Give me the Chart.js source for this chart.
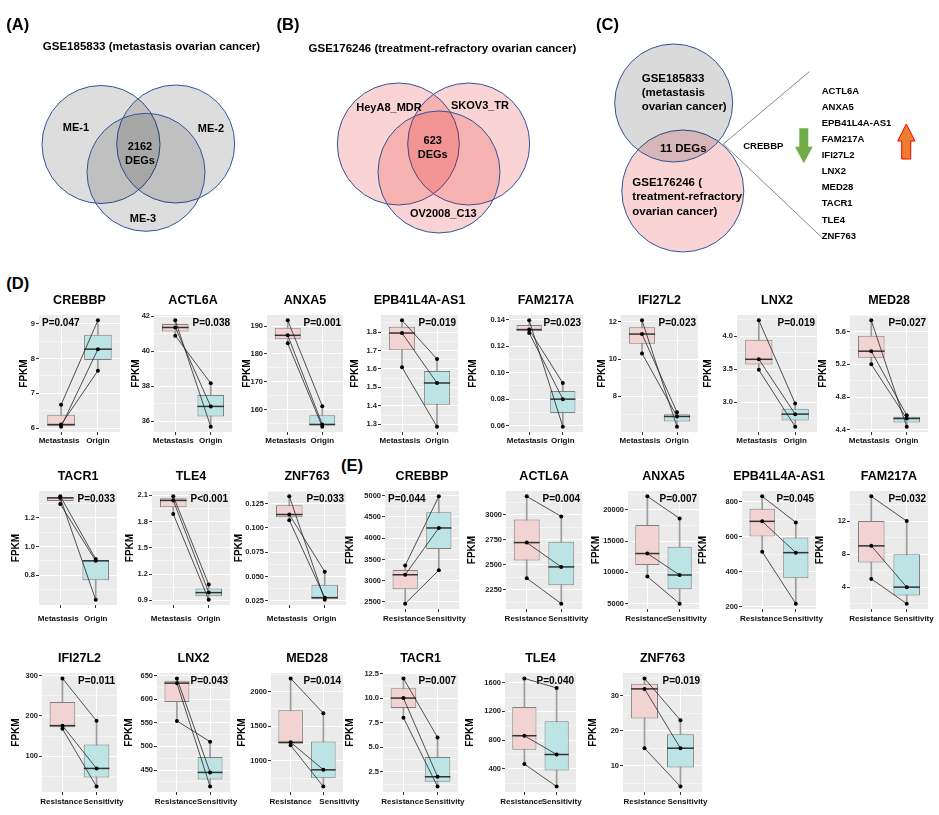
<!DOCTYPE html>
<html>
<head>
<meta charset="utf-8">
<title>CREBBP and related DEGs in ovarian cancer</title>
<script src="https://cdn.jsdelivr.net/npm/chart.js@4.4.1/dist/chart.umd.min.js"></script>
<style>
  html, body { margin: 0; padding: 0; background: #fff; overflow: hidden; }
  #fig { position: relative; width: 939px; height: 815px; }
  #fig canvas, #fig svg { position: absolute; }
  .lbl { position: absolute; font-family: "Liberation Sans", Arial, sans-serif; font-weight: bold;
         color: #000; white-space: nowrap; line-height: 1; }
</style>
</head>
<body>
<div id="fig"></div>
<script>
// ---------- data ----------
// (A)-(C) overlap of DEGs
var vennATitle = "GSE185833 (metastasis ovarian cancer)";
var vennASets = ["ME-1", "ME-2", "ME-3"];
var vennACommon = 2162;
var vennBTitle = "GSE176246 (treatment-refractory ovarian cancer)";
var vennBSets = ["HeyA8_MDR", "SKOV3_TR", "OV2008_C13"];
var vennBCommon = 623;
var vennCCommon = 11;
var downGenes = ["CREBBP"];
var upGenes = ["ACTL6A", "ANXA5", "EPB41L4A-AS1", "FAM217A", "IFI27L2", "LNX2", "MED28", "TACR1", "TLE4", "ZNF763"];

// (D) GSE185833, FPKM of 3 paired samples
var dGroups = ["Metastasis", "Origin"];
var dGenes = ["CREBBP", "ACTL6A", "ANXA5", "EPB41L4A-AS1", "FAM217A", "IFI27L2", "LNX2", "MED28", "TACR1", "TLE4", "ZNF763"];
var dMetastasis = [
  [6.67, 6.04, 6.10],
  [40.89, 41.77, 41.36],
  [192.1, 186.7, 183.8],
  [1.864, 1.795, 1.609],
  [0.1325, 0.1395, 0.1300],
  [12.09, 11.35, 10.31],
  [4.24, 3.65, 3.49],
  [5.736, 5.36, 5.20],
  [1.349, 1.337, 1.295],
  [2.088, 2.04, 1.886],
  [0.1325, 0.1137, 0.1079]
];
var dOrigin = [
  [9.10, 8.27, 7.65],
  [38.16, 35.68, 36.84],
  [161.2, 154.6, 153.8],
  [1.654, 1.524, 1.287],
  [0.0921, 0.0592, 0.0800],
  [6.37, 7.15, 6.92],
  [2.98, 2.82, 2.63],
  [4.44, 4.58, 4.54],
  [0.913, 0.631, 0.901],
  [1.082, 0.989, 0.907],
  [0.0262, 0.0551, 0.0284]
];
var dP = ["P=0.047", "P=0.038", "P=0.001", "P=0.019", "P=0.023", "P=0.023", "P=0.019", "P=0.027", "P=0.033", "P<0.001", "P=0.033"];
var dTicks = [
  ["6", "7", "8", "9"],
  ["36", "38", "40", "42"],
  ["160", "170", "180", "190"],
  ["1.3", "1.4", "1.5", "1.6", "1.7", "1.8"],
  ["0.06", "0.08", "0.10", "0.12", "0.14"],
  ["8", "10", "12"],
  ["3.0", "3.5", "4.0"],
  ["4.4", "4.8", "5.2", "5.6"],
  ["0.8", "1.0", "1.2"],
  ["0.9", "1.2", "1.5", "1.8", "2.1"],
  ["0.025", "0.050", "0.075", "0.100", "0.125"]
];

// (E) GSE176246, FPKM of 3 paired cell lines
var eGroups = ["Resistance", "Sensitivity"];
var eGenes = ["CREBBP", "ACTL6A", "ANXA5", "EPB41L4A-AS1", "FAM217A", "IFI27L2", "LNX2", "MED28", "TACR1", "TLE4", "ZNF763"];
var eResistance = [
  [3358, 3140, 2460],
  [3185, 2723, 2367],
  [22150, 13010, 9330],
  [829, 687, 514],
  [15, 9, 5],
  [293, 176, 168],
  [644, 634, 554],
  [2190, 1267, 1223],
  [12, 10, 8],
  [1660, 860, 465],
  [35, 32, 15]
];
var eSensitivity = [
  [4985, 4241, 3248],
  [2984, 2480, 2113],
  [18620, 9580, 5000],
  [681, 509, 219],
  [12, 4, 2],
  [188, 70, 25],
  [445, 415, 510],
  [1685, 869, 627],
  [6, 2, 1],
  [1527, 598, 150],
  [23, 15, 4]
];
var eP = ["P=0.044", "P=0.004", "P=0.007", "P=0.045", "P=0.032", "P=0.011", "P=0.043", "P=0.014", "P=0.007", "P=0.040", "P=0.019"];
var eTicks = [
  ["2500", "3000", "3500", "4000", "4500", "5000"],
  ["2250", "2500", "2750", "3000"],
  ["5000", "10000", "15000", "20000"],
  ["200", "400", "600", "800"],
  ["4", "8", "12"],
  ["100", "200", "300"],
  ["450", "500", "550", "600", "650"],
  ["1000", "1500", "2000"],
  ["2.5", "5.0", "7.5", "10.0", "12.5"],
  ["400", "800", "1200", "1600"],
  ["10", "20", "30"]
];

// ---------- layout (page pixels) ----------
// x0/x1/y0/y1 = plot panel, lab = centre of the FPKM title, pad = gap above x labels,
// xo = horizontal nudge of the two x labels
var dLayout = [
  { x0: 39,  x1: 120, y0: 315, y1: 432, lab: 24,  pad: 1.2, xo: [-2, 0], p: "left" },
  { x0: 154, x1: 232, y0: 315, y1: 432, lab: 136, pad: 1.2, xo: [-2, 0] },
  { x0: 267, x1: 343, y0: 315, y1: 432, lab: 247, pad: 1.2, xo: [-2, 0] },
  { x0: 381, x1: 458, y0: 315, y1: 432, lab: 355, pad: 1.2, xo: [-2, 0] },
  { x0: 509, x1: 583, y0: 315, y1: 432, lab: 473, pad: 1.2, xo: [-2, 0] },
  { x0: 621, x1: 698, y0: 315, y1: 432, lab: 602, pad: 1.2, xo: [-2, 0] },
  { x0: 737, x1: 817, y0: 315, y1: 432, lab: 708, pad: 1.2, xo: [-2, 0] },
  { x0: 850, x1: 928, y0: 315, y1: 432, lab: 823, pad: 1.2, xo: [-2, 0] },
  { x0: 39,  x1: 117, y0: 491, y1: 605, lab: 16,  pad: 6.2, xo: [-2, 0] },
  { x0: 152, x1: 230, y0: 491, y1: 605, lab: 130, pad: 6.2, xo: [-2, 0] },
  { x0: 268, x1: 346, y0: 491, y1: 605, lab: 239, pad: 6.2, xo: [-2, 0] }
];
var eLayout = [
  { x0: 385, x1: 459, y0: 491, y1: 609, lab: 350, pad: 2.2, xo: [-1, 7], p: "left" },
  { x0: 506, x1: 582, y0: 491, y1: 609, lab: 472, pad: 2.2, xo: [-1, 7] },
  { x0: 628, x1: 699, y0: 491, y1: 609, lab: 596, pad: 2.2, xo: [-1, 7] },
  { x0: 742, x1: 816, y0: 491, y1: 609, lab: 703, pad: 2.2, xo: [-1, 7] },
  { x0: 850, x1: 928, y0: 491, y1: 609, lab: 820, pad: 2.2, xo: [-1, 7] },
  { x0: 42,  x1: 117, y0: 673, y1: 792, lab: 16,  pad: 2.2, xo: [-1, 7] },
  { x0: 157, x1: 230, y0: 673, y1: 792, lab: 129, pad: 2.2, xo: [-1, 7] },
  { x0: 271, x1: 343, y0: 673, y1: 792, lab: 242, pad: 2.2, xo: [0, 16] },
  { x0: 383, x1: 458, y0: 673, y1: 792, lab: 350, pad: 2.2, xo: [-1, 7] },
  { x0: 505, x1: 576, y0: 673, y1: 792, lab: 470, pad: 2.2, xo: [-3, 5] },
  { x0: 623, x1: 702, y0: 673, y1: 792, lab: 593, pad: 2.2, xo: [0, 7] }
];

var FONT = '"Liberation Sans", Arial, Helvetica, sans-serif';
Chart.defaults.font.family = FONT;
Chart.defaults.font.weight = "bold";
Chart.defaults.color = "#1a1a1a";

var fig = document.getElementById("fig");

function label(str, x, y, size, align) {
  var d = document.createElement("div");
  d.className = "lbl";
  d.textContent = str;
  d.style.left = x + "px";
  d.style.top = y + "px";
  d.style.fontSize = size + "px";
  d.style.transform = align === "l" ? "translate(0,-50%)" : "translate(-50%,-50%)";
  fig.appendChild(d);
}

// ---------- Venn diagrams (bubble chart in pixel units) ----------
var vcv = document.createElement("canvas");
vcv.width = 939; vcv.height = 260;
vcv.style.left = "0px"; vcv.style.top = "0px";
fig.appendChild(vcv);

var ring = "#2F5597";
new Chart(vcv, {
  type: "bubble",
  data: {
    datasets: [
      { data: [{ x: 101, y: 144.5, r: 59 }, { x: 175.7, y: 144, r: 59 }, { x: 146, y: 172.3, r: 59 }],
        backgroundColor: "rgba(0,0,0,0.135)", borderColor: ring, borderWidth: 1, clip: false },
      { data: [{ x: 398.3, y: 144, r: 61 }, { x: 468.7, y: 144, r: 61 }, { x: 439, y: 172, r: 61 }],
        backgroundColor: "rgba(225,0,0,0.17)", borderColor: ring, borderWidth: 1, clip: false },
      { data: [{ x: 673.7, y: 103, r: 59 }],
        backgroundColor: "rgba(0,0,0,0.145)", borderColor: ring, borderWidth: 1, clip: false },
      { data: [{ x: 682.8, y: 191, r: 61 }],
        backgroundColor: "rgba(225,0,0,0.17)", borderColor: ring, borderWidth: 1, clip: false }
    ]
  },
  options: {
    responsive: false, animation: false, events: [],
    layout: { padding: 0, autoPadding: false },
    plugins: { legend: { display: false }, tooltip: { enabled: false } },
    scales: {
      x: { type: "linear", min: 0, max: 939, display: false },
      y: { type: "linear", min: 0, max: 260, reverse: true, display: false }
    }
  }
});

// connector lines and arrows of panel C
var svgNS = "http://www.w3.org/2000/svg";
var svg = document.createElementNS(svgNS, "svg");
svg.setAttribute("width", "939"); svg.setAttribute("height", "260");
svg.style.left = "0px"; svg.style.top = "0px";
svg.innerHTML =
  '<line x1="723.3" y1="144" x2="809.3" y2="71.7" stroke="#555" stroke-width="0.7"/>' +
  '<line x1="723.3" y1="144" x2="821.7" y2="237.3" stroke="#555" stroke-width="0.7"/>' +
  '<polygon points="799.3,128.3 808.3,128.3 808.3,146.7 812.7,146.7 803.8,163.3 795,146.7 799.3,146.7" fill="#70AD47"/>' +
  '<polygon points="901.7,159 910.7,159 910.7,141 915,141 906.3,124 897.7,141 901.7,141" fill="#ED7D31" stroke="#FF0000" stroke-width="1"/>';
fig.appendChild(svg);

label("(A)", 17.7, 24, 16.5);
label("(B)", 288, 24, 16.5);
label("(C)", 607.5, 24, 16.5);
label("(D)", 17.7, 283, 16.5);
label("(E)", 352, 465, 16.5);

label(vennATitle, 151.5, 46.7, 11.5);
label(vennASets[0], 76, 127, 11);
label(vennASets[1], 211, 128, 11);
label(vennASets[2], 143, 218, 11);
label(String(vennACommon), 140, 146, 11);
label("DEGs", 140, 159.5, 11);

label(vennBTitle, 442.5, 49.3, 11.5);
label(vennBSets[0], 389, 106.7, 11);
label(vennBSets[1], 480, 105, 11);
label(vennBSets[2], 443.3, 213.3, 11);
label(String(vennBCommon), 432.7, 140, 11);
label("DEGs", 432.7, 154.3, 11);

label("GSE185833", 641.7, 79, 11.5, "l");
label("(metastasis", 641.7, 92.7, 11.5, "l");
label("ovarian cancer)", 641.7, 107.3, 11.5, "l");
label(vennCCommon + " DEGs", 683.3, 149, 11.5);
label("GSE176246 (", 632.3, 182.7, 11.5, "l");
label("treatment-refractory", 632.3, 197.3, 11.5, "l");
label("ovarian cancer)", 632.3, 211.7, 11.5, "l");
downGenes.forEach(function (g, i) { label(g, 763.3, 146 + i * 16.1, 9.5); });
upGenes.forEach(function (g, i) { label(g, 821.7, 90.7 + i * 16.1, 9.5, "l"); });

// ---------- paired box plots ----------
function quantile7(s, p) {
  var h = (s.length - 1) * p, i = Math.floor(h);
  if (i + 1 >= s.length) return s[i];
  return s[i] + (h - i) * (s[i + 1] - s[i]);
}
function boxStats(vals) {
  var s = vals.slice().sort(function (a, b) { return a - b; });
  var q1 = quantile7(s, 0.25), q3 = quantile7(s, 0.75), lim = 1.5 * (q3 - q1);
  var inside = s.filter(function (v) { return v >= q1 - lim && v <= q3 + lim; });
  return { lo: inside[0], q1: q1, med: quantile7(s, 0.5), q3: q3, hi: inside[inside.length - 1] };
}

var panelBg = {
  id: "panelBg",
  beforeDraw: function (c) {
    var a = c.chartArea, x = c.ctx;
    x.save();
    x.fillStyle = "#EBEBEB";
    x.fillRect(a.left, a.top, a.right - a.left, a.bottom - a.top);
    x.restore();
  }
};
// gene title, P value and the group names under the x axis
var notes = {
  id: "notes",
  afterDraw: function (c, args, o) {
    var a = c.chartArea, x = c.ctx, sx = c.scales.x;
    x.save();
    x.fillStyle = "#000";
    x.textBaseline = "middle";
    x.font = "bold 12.5px " + FONT;
    x.textAlign = "center";
    x.fillText(o.title, (a.left + a.right) / 2, a.top - 14.5);
    x.font = "bold 10px " + FONT;
    if (o.side === "left") { x.textAlign = "left"; x.fillText(o.p, a.left + 3, a.top + 8.5); }
    else { x.textAlign = "right"; x.fillText(o.p, a.right - 2, a.top + 8.5); }
    x.font = "bold 8px " + FONT;
    x.fillStyle = "#111";
    x.textAlign = "center";
    o.groups.forEach(function (g, i) {
      x.fillText(g, sx.getPixelForValue(i + 1) + o.xo[i], a.bottom + 3 + o.pad + 4.8);
    });
    x.restore();
  }
};

function boxPanel(spec, gene, g1, g2, groups, pText, tickText) {
  var left = spec.lab - 6, top = spec.y0 - 22;
  var w = spec.x1 - left + 22, h = spec.y1 - spec.y0 + 46;
  var cv = document.createElement("canvas");
  cv.width = w; cv.height = h;
  cv.style.left = left + "px"; cv.style.top = top + "px";
  fig.appendChild(cv);

  var s1 = boxStats(g1), s2 = boxStats(g2);
  var all = g1.concat(g2);
  var lo = Math.min.apply(null, all), hi = Math.max.apply(null, all), ex = (hi - lo) * 0.05;
  var ymin = lo - ex, ymax = hi + ex;

  // major ticks from the labels, minor grid lines half way
  var major = tickText.map(parseFloat), step = major[1] - major[0];
  var yt = [];
  major.forEach(function (v, i) {
    yt.push({ value: v, txt: tickText[i] });
    if (i < major.length - 1) yt.push({ value: v + step / 2, txt: "" });
  });
  if (major[0] - step / 2 > ymin) yt.unshift({ value: major[0] - step / 2, txt: "" });
  if (major[major.length - 1] + step / 2 < ymax) yt.push({ value: major[major.length - 1] + step / 2, txt: "" });

  var pairs = g1.map(function (v, i) {
    return { type: "line", data: [{ x: 1, y: v }, { x: 2, y: g2[i] }],
      borderColor: "#262626", borderWidth: 0.8, pointRadius: 2,
      pointBackgroundColor: "#000", pointBorderWidth: 0, order: 0 };
  });

  new Chart(cv, {
    type: "bar",
    data: {
      datasets: pairs.concat([
        { type: "line", data: [{ x: 1, y: s1.med }, { x: 2, y: s2.med }], showLine: false,
          pointStyle: "line", borderColor: "#333", pointBorderColor: "#333", pointBorderWidth: 1.5,
          pointRadius: function (c) { var a = c.chart.chartArea; return a ? (a.right - a.left) * 0.375 / 2.2 : 10; },
          order: 1 },
        { type: "bar", data: [{ x: 1, y: [s1.q1, s1.q3] }, { x: 2, y: [s2.q1, s2.q3] }],
          backgroundColor: ["#F3D3D2", "#BDE4E5"], borderColor: "#808080", borderWidth: 1,
          borderSkipped: false, barPercentage: 0.75, categoryPercentage: 1, grouped: false, order: 2 },
        { type: "bar", data: [{ x: 1, y: [s1.lo, s1.hi] }, { x: 2, y: [s2.lo, s2.hi] }],
          backgroundColor: "#9E9E9E", maxBarThickness: 1.7, grouped: false, order: 3 }
      ])
    },
    options: {
      responsive: false, animation: false, events: [],
      layout: { padding: { top: 22, right: 22, bottom: 0, left: 0 }, autoPadding: false },
      plugins: {
        legend: { display: false }, tooltip: { enabled: false },
        notes: { title: gene, p: pText, side: spec.p || "right", groups: groups, xo: spec.xo, pad: spec.pad }
      },
      scales: {
        x: {
          type: "linear", min: 0.4, max: 2.6, offset: false,
          afterBuildTicks: function (sc) { sc.ticks = [{ value: 1 }, { value: 2 }]; },
          afterFit: function (sc) { sc.height = 24; sc.paddingLeft = 0; sc.paddingRight = 0; },
          ticks: { display: false },
          grid: { color: "#fff", lineWidth: 1, offset: false, tickLength: 3, tickColor: "#333" },
          border: { display: false }
        },
        y: {
          type: "linear", min: ymin, max: ymax,
          afterBuildTicks: function (sc) { sc.ticks = yt; },
          afterFit: function (sc) { sc.width = spec.x0 - left; sc.paddingTop = 0; sc.paddingBottom = 0; },
          ticks: {
            autoSkip: false, padding: 1, font: { size: 7.5, weight: "bold" }, color: "#222",
            callback: function (v, i, t) { return t[i].txt; }
          },
          grid: {
            color: "#fff",
            lineWidth: function (c) { return c.tick && c.tick.txt ? 1 : 0.5; },
            tickLength: 3,
            tickColor: function (c) { return c.tick && c.tick.txt ? "#333" : "rgba(0,0,0,0)"; }
          },
          border: { display: false },
          title: { display: true, text: "FPKM", font: { size: 10, weight: "bold" }, color: "#000", padding: 0 }
        }
      }
    },
    plugins: [panelBg, notes]
  });
}

dGenes.forEach(function (g, i) {
  boxPanel(dLayout[i], g, dMetastasis[i], dOrigin[i], dGroups, dP[i], dTicks[i]);
});
eGenes.forEach(function (g, i) {
  boxPanel(eLayout[i], g, eResistance[i], eSensitivity[i], eGroups, eP[i], eTicks[i]);
});
</script>
</body>
</html>
